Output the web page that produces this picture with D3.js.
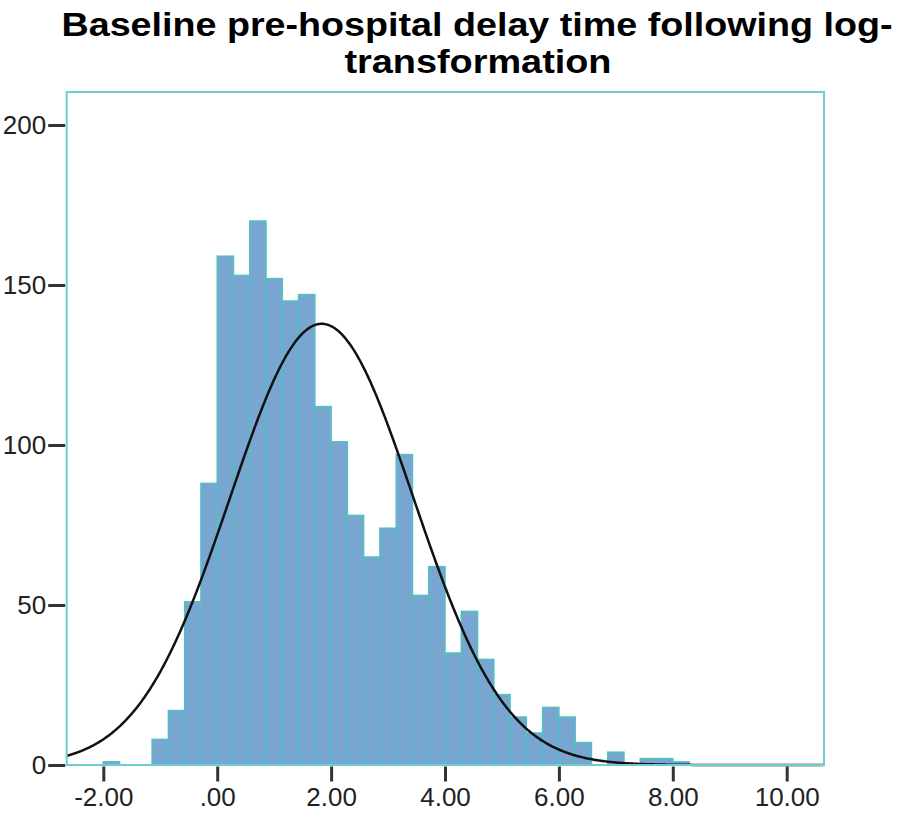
<!DOCTYPE html>
<html>
<head>
<meta charset="utf-8">
<script src="https://cdn.jsdelivr.net/npm/d3@7"></script>
<style>
  body { margin: 0; background: #fff; }
  svg { display: block; }
</style>
</head>
<body>
<div id="chart"></div>
<script>
// histogram counts, bins of width 2/7 starting at -2.00
const binStart = -2;
const binWidth = 2 / 7;
const counts = [1, 0, 0, 8, 17, 51, 88, 159, 153, 170, 152, 145, 147, 112, 101, 78, 65, 74, 97, 53,
                62, 35, 48, 33, 22, 15, 10, 18, 15, 7, 0, 4, 0, 2, 2, 1];
const xTicks = [-2, 0, 2, 4, 6, 8, 10];
const yTicks = [0, 50, 100, 150, 200];
// fitted normal curve
const fitMean = 1.835;
const fitSd = 1.608;
const titleLines = ["Baseline pre-hospital delay time following log-", "transformation"];

const W = 906, H = 814;
const plotL = 66.7, plotR = 824, plotT = 92, plotB = 765;

const svg = d3.select("#chart").append("svg")
    .attr("width", W)
    .attr("height", H);

const x = d3.scaleLinear().domain([-2.643, 10.655]).range([plotL, plotR]);
const y = d3.scaleLinear().domain([0, 200]).range([plotB, 125]);

// title
svg.append("text")
    .attr("x", 477).attr("y", 36)
    .attr("text-anchor", "middle")
    .attr("textLength", 831).attr("lengthAdjust", "spacingAndGlyphs")
    .style("font", "bold 34px 'Liberation Sans', Arial, sans-serif")
    .attr("fill", "#000")
    .text(titleLines[0]);
svg.append("text")
    .attr("x", 478).attr("y", 73)
    .attr("text-anchor", "middle")
    .attr("textLength", 267).attr("lengthAdjust", "spacingAndGlyphs")
    .style("font", "bold 34px 'Liberation Sans', Arial, sans-serif")
    .attr("fill", "#000")
    .text(titleLines[1]);

// bars
const bins = counts.map((c, i) => ({ x0: binStart + i * binWidth, x1: binStart + (i + 1) * binWidth, n: c }))
    .filter(d => d.n > 0);

svg.append("g").selectAll("rect")
  .data(bins)
  .join("rect")
    .attr("x", d => x(d.x0))
    .attr("y", d => y(d.n))
    .attr("width", d => x(d.x1) - x(d.x0))
    .attr("height", d => y(0) - y(d.n))
    .attr("fill", "#79a6d1")
    .attr("stroke", "#52c0c3")
    .attr("stroke-width", 1.5);

// normal curve
const total = d3.sum(counts);
const pdf = v => Math.exp(-0.5 * Math.pow((v - fitMean) / fitSd, 2)) / (fitSd * Math.sqrt(2 * Math.PI));
const curvePts = d3.range(-2.643, 10.655, 0.02).map(v => [v, total * binWidth * pdf(v)]);

svg.append("path")
    .datum(curvePts)
    .attr("fill", "none")
    .attr("stroke", "#111")
    .attr("stroke-width", 2.5)
    .attr("d", d3.line().x(d => x(d[0])).y(d => y(d[1])));

// frame
svg.append("rect")
    .attr("x", plotL).attr("y", plotT)
    .attr("width", plotR - plotL).attr("height", plotB - plotT)
    .attr("fill", "none")
    .attr("stroke", "#6fcdd0")
    .attr("stroke-width", 2);

// axes
const yAxis = svg.append("g")
    .attr("transform", `translate(${plotL - 1.5},0)`)
    .call(d3.axisLeft(y).tickValues(yTicks).tickSize(17).tickPadding(2).tickFormat(d3.format("d")));
const xAxis = svg.append("g")
    .attr("transform", `translate(0,${plotB + 1.5})`)
    .call(d3.axisBottom(x).tickValues(xTicks).tickSize(15).tickPadding(6)
      .tickFormat(d => d === 0 ? ".00" : d3.format(".2f")(d).replace("\u2212", "-")));

[yAxis, xAxis].forEach(g => {
  g.select(".domain").remove();
  g.selectAll(".tick line").attr("stroke", "#333").attr("stroke-width", 3);
  g.selectAll(".tick text")
    .attr("fill", "#222")
    .style("font", "26px 'Liberation Sans', Arial, sans-serif");
});
</script>
</body>
</html>
